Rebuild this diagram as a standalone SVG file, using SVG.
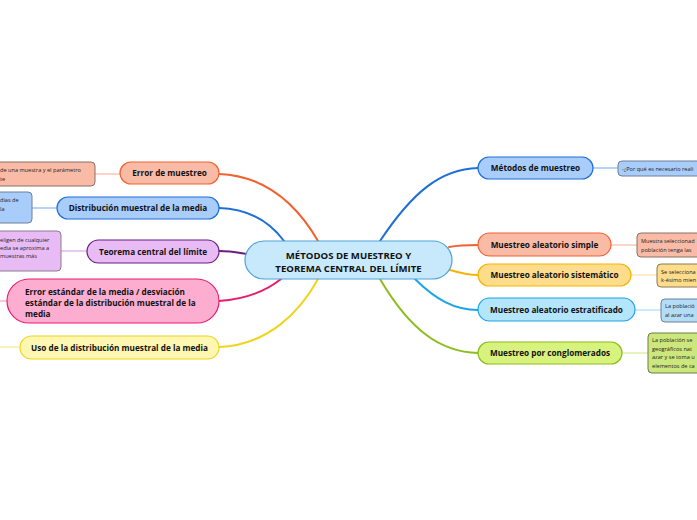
<svg xmlns="http://www.w3.org/2000/svg" width="697" height="520" viewBox="0 0 697 520">
<style>
.bg{fill:#ffffff}
.t{font-family:"Open Sans","Noto Sans","Liberation Sans",sans-serif;font-weight:700;font-size:8.2px;fill:#111}
.tc{font-family:"Open Sans","Noto Sans","Liberation Sans",sans-serif;font-weight:700;font-size:9.6px;fill:#111}
.s{font-family:"Open Sans","Noto Sans","Liberation Sans",sans-serif;font-size:5.6px;fill:#222}
.c{fill:none;stroke-width:2;stroke-linecap:round}
.sc{fill:none;stroke-width:1.2}
</style>
<rect class="bg" width="697" height="520"/>
<g id="connectors">
  <path class="c" stroke="#f26130" d="M219,174 C270,176 300,210 318,241"/>
  <path class="c" stroke="#1f6fd6" d="M219,208 C250,209 270,222 284,241"/>
  <path class="c" stroke="#6b1d80" d="M219,251 C232,251 240,253 247,254"/>
  <path class="c" stroke="#ea1b6e" d="M219,301 C248,299 266,291 281,279"/>
  <path class="c" stroke="#f0d41c" d="M219,347 C268,345 300,312 318,279"/>
  <path class="c" stroke="#1f6fd6" d="M380,241 C412,193 440,169 478,168"/>
  <path class="c" stroke="#f26130" d="M449,247 C460,245 468,245 478,245"/>
  <path class="c" stroke="#f7b500" d="M450,270 C460,273 468,275 478,275"/>
  <path class="c" stroke="#1ca4e8" d="M415,279 C436,300 455,310 478,310"/>
  <path class="c" stroke="#8cbd1f" d="M380,279 C410,330 440,352 478,353"/>
  <line class="sc" stroke="#f9b8a5" x1="95" y1="174" x2="120" y2="174"/>
  <line class="sc" stroke="#86b8f0" x1="32" y1="208" x2="57" y2="208"/>
  <line class="sc" stroke="#d8a8e8" x1="61" y1="251" x2="87" y2="251"/>
  <line class="sc" stroke="#f7a0c8" x1="0" y1="301" x2="7" y2="301"/>
  <line class="sc" stroke="#f5e98a" x1="0" y1="347" x2="20" y2="347"/>
  <line class="sc" stroke="#86b8f0" x1="593" y1="168" x2="618" y2="168"/>
  <line class="sc" stroke="#f9b8a5" x1="611" y1="245" x2="637" y2="245"/>
  <line class="sc" stroke="#fde2a0" x1="631" y1="275" x2="657" y2="275"/>
  <line class="sc" stroke="#a8ddf7" x1="635" y1="310" x2="661" y2="310"/>
  <line class="sc" stroke="#d4ec98" x1="622" y1="353" x2="648" y2="353"/>
</g>
<g id="center">
  <rect x="245" y="241" width="207" height="38" rx="19" fill="#c8e9fb" stroke="#4ea3dc" stroke-width="1.2"/>
  <text class="tc" x="348.5" y="258.5" text-anchor="middle">MÉTODOS DE MUESTREO Y</text>
  <text class="tc" x="348.5" y="271.5" text-anchor="middle">TEOREMA CENTRAL DEL LÍMITE</text>
</g>
<g id="error-muestreo">
  <rect x="120" y="162" width="99" height="22" rx="11" fill="#f9bba6" stroke="#f26130" stroke-width="1.2"/>
  <text class="t" x="169.5" y="176" text-anchor="middle">Error de muestreo</text>
</g>
<g id="error-muestreo-sub">
  <rect x="-8" y="162" width="103" height="24" rx="4" fill="#f9bba6" stroke="#8a7066" stroke-width="1"/>
  <text class="s" x="0" y="172">de una muestra y el parámetro</text>
  <text class="s" x="0" y="181">te</text>
</g>
<g id="distribucion">
  <rect x="57" y="197" width="162" height="22" rx="11" fill="#a9cdfb" stroke="#1f6fd6" stroke-width="1.2"/>
  <text class="t" x="138" y="211" text-anchor="middle">Distribución muestral de la media</text>
</g>
<g id="distribucion-sub">
  <rect x="-8" y="192" width="40" height="31" rx="4" fill="#a9cdfb" stroke="#6d7f99" stroke-width="1"/>
  <text class="s" x="0" y="202">dias de</text>
  <text class="s" x="0" y="211">la</text>
</g>
<g id="teorema">
  <rect x="87" y="240" width="132" height="23" rx="11.5" fill="#e8bbf5" stroke="#6b1d80" stroke-width="1.2"/>
  <text class="t" x="153" y="254.5" text-anchor="middle">Teorema central del límite</text>
</g>
<g id="teorema-sub">
  <rect x="-8" y="231" width="69" height="40" rx="4" fill="#e8bbf5" stroke="#8a7a90" stroke-width="1"/>
  <text class="s" x="0" y="242">eligen de cualquier</text>
  <text class="s" x="0" y="250">edia se aproxima a</text>
  <text class="s" x="0" y="258">muestras más</text>
</g>
<g id="error-estandar">
  <rect x="7" y="279" width="212" height="44" rx="22" fill="#fdaed0" stroke="#ea1b6e" stroke-width="1.2"/>
  <text class="t" x="25" y="295">Error estándar de la media / desviación</text>
  <text class="t" x="25" y="306">estándar de la distribución muestral de la</text>
  <text class="t" x="25" y="317">media</text>
</g>
<g id="uso">
  <rect x="20" y="336" width="199" height="23" rx="11.5" fill="#fdf7b2" stroke="#f0d41c" stroke-width="1.2"/>
  <text class="t" x="119.5" y="350.5" text-anchor="middle">Uso de la distribución muestral de la media</text>
</g>
<g id="metodos">
  <rect x="478" y="157" width="115" height="22" rx="11" fill="#a9cdfb" stroke="#1f6fd6" stroke-width="1.2"/>
  <text class="t" x="535.5" y="171" text-anchor="middle">Métodos de muestreo</text>
</g>
<g id="metodos-sub">
  <rect x="618" y="161" width="100" height="15" rx="4" fill="#a9cdfb" stroke="#6d7f99" stroke-width="1"/>
  <text class="s" x="622" y="171">-¿Por qué es necesario reali</text>
</g>
<g id="simple">
  <rect x="478" y="233" width="133" height="23" rx="11.5" fill="#f9bba6" stroke="#f26130" stroke-width="1.2"/>
  <text class="t" x="544.5" y="247.5" text-anchor="middle">Muestreo aleatorio simple</text>
</g>
<g id="simple-sub">
  <rect x="637" y="233" width="80" height="24" rx="4" fill="#f9bba6" stroke="#8a7066" stroke-width="1"/>
  <text class="s" x="641" y="243">Muestra seleccionad</text>
  <text class="s" x="641" y="251.5">población tenga las</text>
</g>
<g id="sistematico">
  <rect x="478" y="264" width="153" height="22" rx="11" fill="#fddc8c" stroke="#f7b500" stroke-width="1.2"/>
  <text class="t" x="554.5" y="278" text-anchor="middle">Muestreo aleatorio sistemático</text>
</g>
<g id="sistematico-sub">
  <rect x="657" y="264" width="60" height="23" rx="4" fill="#fddc8c" stroke="#8a7a55" stroke-width="1"/>
  <text class="s" x="661" y="273.5">Se selecciona</text>
  <text class="s" x="661" y="282">k-ésimo mien</text>
</g>
<g id="estratificado">
  <rect x="478" y="298" width="157" height="23" rx="11.5" fill="#b3e5fb" stroke="#1ca4e8" stroke-width="1.2"/>
  <text class="t" x="556.5" y="312.5" text-anchor="middle">Muestreo aleatorio estratificado</text>
</g>
<g id="estratificado-sub">
  <rect x="661" y="299" width="56" height="23" rx="4" fill="#b3ddf7" stroke="#6d7f99" stroke-width="1"/>
  <text class="s" x="665" y="308">La població</text>
  <text class="s" x="665" y="317">al azar una</text>
</g>
<g id="conglomerados">
  <rect x="478" y="342" width="144" height="22" rx="11" fill="#d8f27e" stroke="#8cbd1f" stroke-width="1.2"/>
  <text class="t" x="550" y="356" text-anchor="middle">Muestreo por conglomerados</text>
</g>
<g id="conglomerados-sub">
  <rect x="648" y="333" width="70" height="40" rx="4" fill="#cce87c" stroke="#6b7a4b" stroke-width="1"/>
  <text class="s" x="652" y="342">La población se</text>
  <text class="s" x="652" y="350.5">geográficos nat</text>
  <text class="s" x="652" y="359">azar y se toma u</text>
  <text class="s" x="652" y="367.5">elementos de ca</text>
</g>
</svg>
